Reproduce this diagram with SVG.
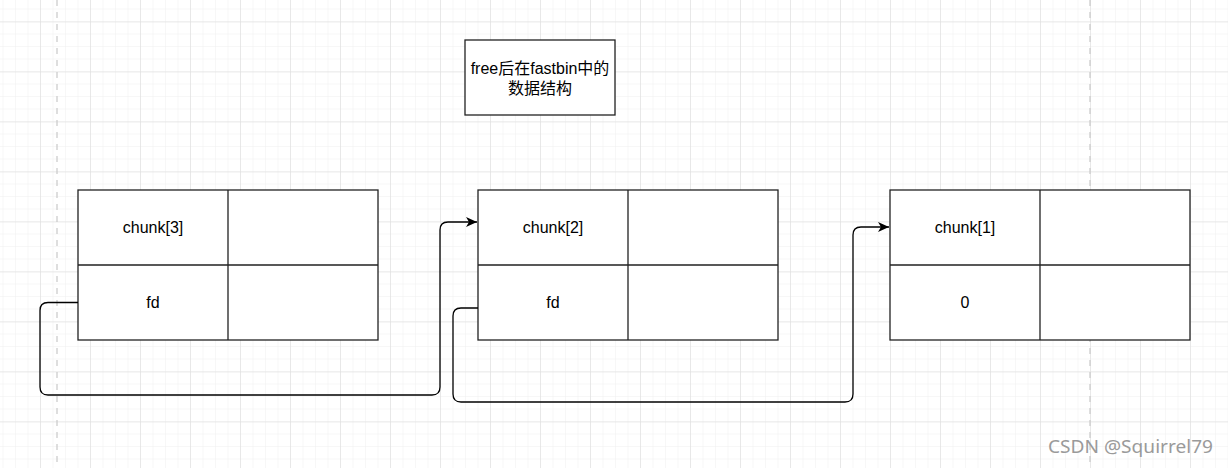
<svg xmlns="http://www.w3.org/2000/svg" width="1228" height="468" viewBox="0 0 1228 468">
  <defs>
    <pattern id="minor" x="2.5" y="8.5" width="12.5" height="12.5" patternUnits="userSpaceOnUse">
      <path d="M0,0 H12.5 M0,0 V12.5" fill="none" stroke="#f0f0f0" stroke-width="1"/>
    </pattern>
    <pattern id="major" x="40" y="21.5" width="50" height="50" patternUnits="userSpaceOnUse">
      <path d="M0,0 H50 M0,0 V50" fill="none" stroke="#dadada" stroke-width="1"/>
    </pattern>
    <marker id="arrow" markerUnits="userSpaceOnUse" markerWidth="12" markerHeight="10" refX="11" refY="5" orient="auto" viewBox="0 0 12 10">
      <path d="M0,0 L11,5 L0,10 L3,5 Z" fill="#000"/>
    </marker>
  </defs>
  <style>
    .cell { fill: #fff; stroke: #222; stroke-width: 1.3; }
    .line { fill: none; stroke: #222; stroke-width: 1.3; }
    .lbl { font-family: "Liberation Sans", Arial, sans-serif; font-size: 16px; fill: #000; text-anchor: middle; }
    .title { font-family: "Liberation Sans", "Noto Sans CJK SC", sans-serif; font-size: 16px; fill: #000; text-anchor: middle; }
    .conn { fill: none; stroke: #000; stroke-width: 1.3; }
    .guide { stroke: #c8c8c8; stroke-width: 1.2; stroke-dasharray: 6 6; }
  </style>
  <rect width="1228" height="468" fill="#fff"/>
  <rect width="1228" height="468" fill="url(#minor)"/>
  <rect width="1228" height="468" fill="url(#major)"/>
  <line class="guide" x1="57" y1="0" x2="57" y2="468"/>
  <line class="guide" x1="1090" y1="0" x2="1090" y2="468"/>

  <g id="title">
    <rect class="cell" x="465" y="40" width="150" height="75"/>
    <text class="title" x="540" y="74">free后在fastbin中的</text>
    <text class="title" x="540" y="94">数据结构</text>
  </g>

  <g id="chunk3">
    <rect class="cell" x="78" y="190" width="300" height="150"/>
    <path class="line" d="M228,190 V340 M78,265 H378"/>
    <text class="lbl" x="153" y="233">chunk[3]</text>
    <text class="lbl" x="153" y="308">fd</text>
  </g>

  <g id="chunk2">
    <rect class="cell" x="478" y="190" width="300" height="150"/>
    <path class="line" d="M628,190 V340 M478,265 H778"/>
    <text class="lbl" x="553" y="233">chunk[2]</text>
    <text class="lbl" x="553" y="308">fd</text>
  </g>

  <g id="chunk1">
    <rect class="cell" x="890" y="190" width="300" height="150"/>
    <path class="line" d="M1040,190 V340 M890,265 H1190"/>
    <text class="lbl" x="965" y="233">chunk[1]</text>
    <text class="lbl" x="965" y="308">0</text>
  </g>

  <g id="connectors">
    <path class="conn" marker-end="url(#arrow)" d="M78,302.5 H48 Q40,302.5 40,310.5 V387 Q40,395 48,395 H432 Q440,395 440,387 V230 Q440,222 448,222 H477"/>
    <path class="conn" marker-end="url(#arrow)" d="M478,308 H461 Q453,308 453,316 V394 Q453,402 461,402 H845 Q853,402 853,394 V235 Q853,227 861,227 H889"/>
  </g>

  <text x="1048" y="453" font-family="'Noto Sans', 'Liberation Sans', sans-serif" font-size="18" fill="#9a9a9a" textLength="165" lengthAdjust="spacingAndGlyphs">CSDN @Squirrel79</text>
</svg>
